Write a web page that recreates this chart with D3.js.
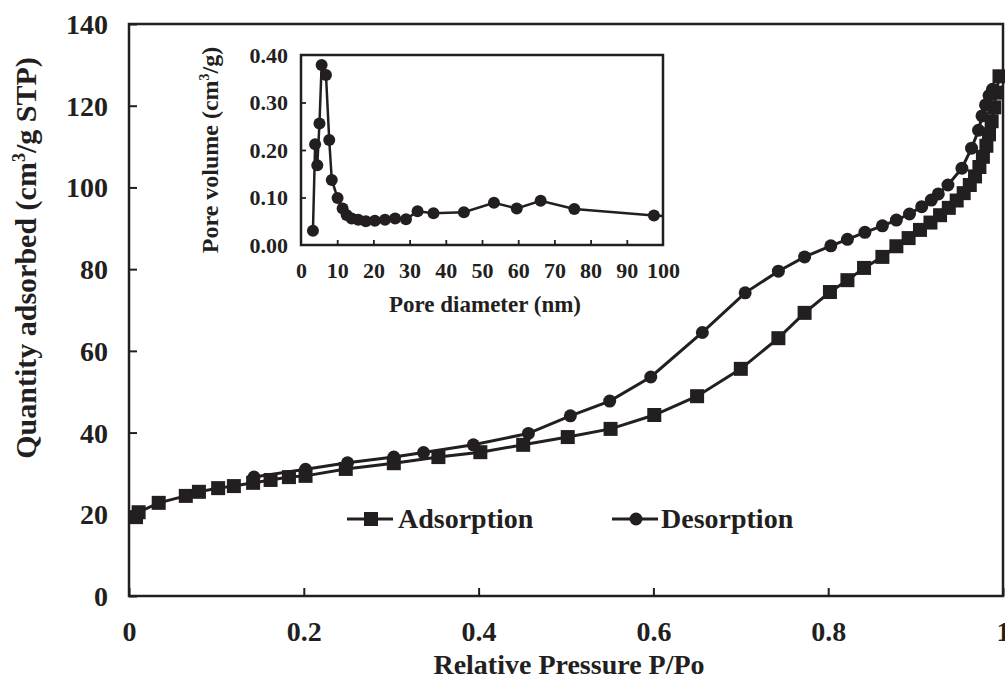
<!DOCTYPE html>
<html>
<head>
<meta charset="utf-8">
<script src="https://cdn.jsdelivr.net/npm/d3@7"></script>
<style>
  body { margin: 0; background: #fff; }
  svg { display: block; font-family: "Liberation Serif", "Times New Roman", serif; font-weight: bold; }
</style>
</head>
<body>
<svg id="chart" width="1005" height="680"></svg>
<script>
"use strict";

// isotherm data
const adsP = [0.008, 0.011, 0.034, 0.065, 0.080, 0.102, 0.120, 0.142, 0.162, 0.183, 0.202, 0.248, 0.303, 0.354, 0.402, 0.451, 0.502, 0.551, 0.601, 0.650, 0.700, 0.743, 0.773, 0.802, 0.822, 0.841, 0.862, 0.878, 0.892, 0.905, 0.917, 0.928, 0.938, 0.947, 0.955, 0.962, 0.968, 0.973, 0.977, 0.981, 0.984, 0.987, 0.990, 0.992, 0.996];
const adsQ = [19.3, 20.5, 22.8, 24.5, 25.5, 26.4, 26.9, 27.7, 28.4, 29.1, 29.4, 31.1, 32.5, 34.0, 35.2, 37.0, 38.9, 40.9, 44.3, 48.9, 55.6, 63.1, 69.3, 74.4, 77.3, 80.3, 83.0, 85.6, 87.6, 89.6, 91.4, 93.2, 95.0, 96.8, 98.6, 100.6, 102.7, 105.0, 107.5, 110.2, 113.0, 116.2, 119.6, 123.2, 127.2];

const desP = [0.143, 0.202, 0.250, 0.303, 0.337, 0.394, 0.457, 0.505, 0.550, 0.597, 0.656, 0.705, 0.743, 0.773, 0.803, 0.822, 0.842, 0.862, 0.878, 0.893, 0.907, 0.918, 0.926, 0.937, 0.953, 0.964, 0.972, 0.976, 0.980, 0.984, 0.988];
const desQ = [29.1, 31.0, 32.6, 34.0, 35.1, 37.0, 39.8, 44.1, 47.7, 53.6, 64.5, 74.2, 79.5, 83.0, 85.7, 87.3, 89.0, 90.6, 92.0, 93.5, 95.3, 96.9, 98.4, 100.6, 104.7, 109.6, 114.0, 117.5, 120.2, 122.5, 124.0];

// pore size distribution (inset)
const poreD = [3.3, 3.9, 4.5, 5.1, 5.7, 6.9, 7.8, 8.5, 10.1, 11.5, 12.6, 14.0, 15.8, 17.9, 20.4, 23.2, 26.0, 29.0, 32.2, 36.6, 45.0, 53.3, 59.6, 66.2, 75.5, 97.5];
const poreV = [0.030, 0.212, 0.168, 0.256, 0.379, 0.358, 0.221, 0.137, 0.099, 0.077, 0.063, 0.056, 0.053, 0.050, 0.051, 0.053, 0.056, 0.054, 0.071, 0.067, 0.069, 0.089, 0.077, 0.093, 0.076, 0.062];
const poreTail = [{d: 97.5, v: 0.062}, {d: 104, v: 0.059}];

const mainXTicks = [0, 0.2, 0.4, 0.6, 0.8, 1];
const mainYTicks = [0, 20, 40, 60, 80, 100, 120, 140];
const insetXTicks = [0, 10, 20, 30, 40, 50, 60, 70, 80, 90, 100];
const insetYTicks = [0, 0.1, 0.2, 0.3, 0.4];

const ink = "#231f20";
const svg = d3.select("#chart");

// ---------- main plot ----------
const x = d3.scaleLinear().domain([0, 1]).range([129, 1003]);
const y = d3.scaleLinear().domain([0, 140]).range([596, 24]);

// frame
svg.append("rect")
  .attr("x", x(0)).attr("y", y(140))
  .attr("width", x(1) - x(0)).attr("height", y(0) - y(140))
  .attr("fill", "none").attr("stroke", ink).attr("stroke-width", 2.5);

const xAxis = svg.append("g")
  .attr("transform", `translate(0,${y(0)})`)
  .call(d3.axisBottom(x).tickValues(mainXTicks).tickSizeInner(-8).tickSizeOuter(0)
    .tickPadding(25).tickFormat(d => d === 0 || d === 1 ? d : d3.format(".1f")(d)));
const yAxis = svg.append("g")
  .attr("transform", `translate(${x(0)},0)`)
  .call(d3.axisLeft(y).tickValues(mainYTicks).tickSizeInner(-8).tickSizeOuter(0).tickPadding(21));

[xAxis, yAxis].forEach(a => {
  a.select(".domain").remove();
  a.selectAll(".tick line").attr("stroke", ink).attr("stroke-width", 2);
  a.selectAll(".tick text").attr("fill", ink)
    .style("font-family", "Liberation Serif").style("font-weight", "bold").style("font-size", "28px");
});
yAxis.selectAll(".tick text").attr("dy", "0.34em");

// axis titles
svg.append("text")
  .attr("x", 569).attr("y", 674)
  .attr("text-anchor", "middle").attr("fill", ink).style("font-size", "28px")
  .text("Relative Pressure P/Po");

const yTitle = svg.append("text")
  .attr("transform", "translate(36,258) rotate(-90)")
  .attr("text-anchor", "middle").attr("fill", ink).style("font-size", "30px");
yTitle.append("tspan").text("Quantity adsorbed (cm");
yTitle.append("tspan").attr("dy", -11).style("font-size", "18px").text("3");
yTitle.append("tspan").attr("dy", 11).text("/g STP)");

// series
const line = d3.line().x(d => x(d.p)).y(d => y(d.q));
const ads = adsP.map((p, i) => ({p, q: adsQ[i]}));
const des = desP.map((p, i) => ({p, q: desQ[i]}));

svg.append("path").datum(ads).attr("d", line)
  .attr("fill", "none").attr("stroke", ink).attr("stroke-width", 3);
svg.append("path").datum(des).attr("d", line)
  .attr("fill", "none").attr("stroke", ink).attr("stroke-width", 3);

svg.append("g").selectAll("rect").data(ads).join("rect")
  .attr("x", d => x(d.p) - 7).attr("y", d => y(d.q) - 7)
  .attr("width", 14).attr("height", 14).attr("fill", ink);
svg.append("g").selectAll("circle").data(des).join("circle")
  .attr("cx", d => x(d.p)).attr("cy", d => y(d.q)).attr("r", 6.5).attr("fill", ink);

// legend
const legend = svg.append("g");
legend.append("line").attr("x1", 347).attr("x2", 393).attr("y1", 519).attr("y2", 519)
  .attr("stroke", ink).attr("stroke-width", 3);
legend.append("rect").attr("x", 364).attr("y", 512).attr("width", 14).attr("height", 14).attr("fill", ink);
legend.append("text").attr("x", 398).attr("y", 528).attr("fill", ink).style("font-size", "28px").text("Adsorption");
legend.append("line").attr("x1", 612).attr("x2", 658).attr("y1", 519).attr("y2", 519)
  .attr("stroke", ink).attr("stroke-width", 3);
legend.append("circle").attr("cx", 636).attr("cy", 519).attr("r", 6.5).attr("fill", ink);
legend.append("text").attr("x", 661).attr("y", 528).attr("fill", ink).style("font-size", "28px").text("Desorption");

// ---------- inset ----------
const ix = d3.scaleLinear().domain([0, 100]).range([301, 663]);
const iy = d3.scaleLinear().domain([0, 0.4]).range([245, 55]);

svg.append("defs").append("clipPath").attr("id", "insetClip")
  .append("rect").attr("x", ix(0)).attr("y", iy(0.4) - 10)
  .attr("width", ix(100) - ix(0)).attr("height", iy(0) - iy(0.4) + 10);

svg.append("rect")
  .attr("x", ix(0)).attr("y", iy(0.4))
  .attr("width", ix(100) - ix(0)).attr("height", iy(0) - iy(0.4))
  .attr("fill", "#fff").attr("stroke", ink).attr("stroke-width", 2.5);

const ixAxis = svg.append("g")
  .attr("transform", `translate(0,${iy(0)})`)
  .call(d3.axisBottom(ix).tickValues(insetXTicks).tickSizeInner(-5).tickSizeOuter(0).tickPadding(17));
const iyAxis = svg.append("g")
  .attr("transform", `translate(${ix(0)},0)`)
  .call(d3.axisLeft(iy).tickValues(insetYTicks).tickSizeInner(-5).tickSizeOuter(0).tickPadding(13)
    .tickFormat(d3.format(".2f")));

[ixAxis, iyAxis].forEach(a => {
  a.select(".domain").remove();
  a.selectAll(".tick line").attr("stroke", ink).attr("stroke-width", 1.8);
  a.selectAll(".tick text").attr("fill", ink)
    .style("font-family", "Liberation Serif").style("font-weight", "bold").style("font-size", "22px");
});
ixAxis.selectAll(".tick line").filter(d => d === 0 || d === 100).remove();
iyAxis.selectAll(".tick line").filter(d => d === 0 || d === 0.4).remove();

svg.append("text")
  .attr("x", 485).attr("y", 312)
  .attr("text-anchor", "middle").attr("fill", ink).style("font-size", "23px")
  .text("Pore diameter (nm)");

const iyTitle = svg.append("text")
  .attr("transform", "translate(218,150) rotate(-90)")
  .attr("text-anchor", "middle").attr("fill", ink).style("font-size", "24px");
iyTitle.append("tspan").text("Pore volume (cm");
iyTitle.append("tspan").attr("dy", -9).style("font-size", "14px").text("3");
iyTitle.append("tspan").attr("dy", 9).text("/g)");

const pores = poreD.map((d, i) => ({d, v: poreV[i]}));
const pline = d3.line().x(d => ix(d.d)).y(d => iy(d.v));

const ig = svg.append("g").attr("clip-path", "url(#insetClip)");
ig.append("path").datum(pores).attr("d", pline)
  .attr("fill", "none").attr("stroke", ink).attr("stroke-width", 2.5);
ig.append("path").datum(poreTail).attr("d", pline)
  .attr("fill", "none").attr("stroke", ink).attr("stroke-width", 2.5);
svg.append("g").selectAll("circle").data(pores).join("circle")
  .attr("cx", d => ix(d.d)).attr("cy", d => iy(d.v)).attr("r", 6).attr("fill", ink);
</script>
</body>
</html>
